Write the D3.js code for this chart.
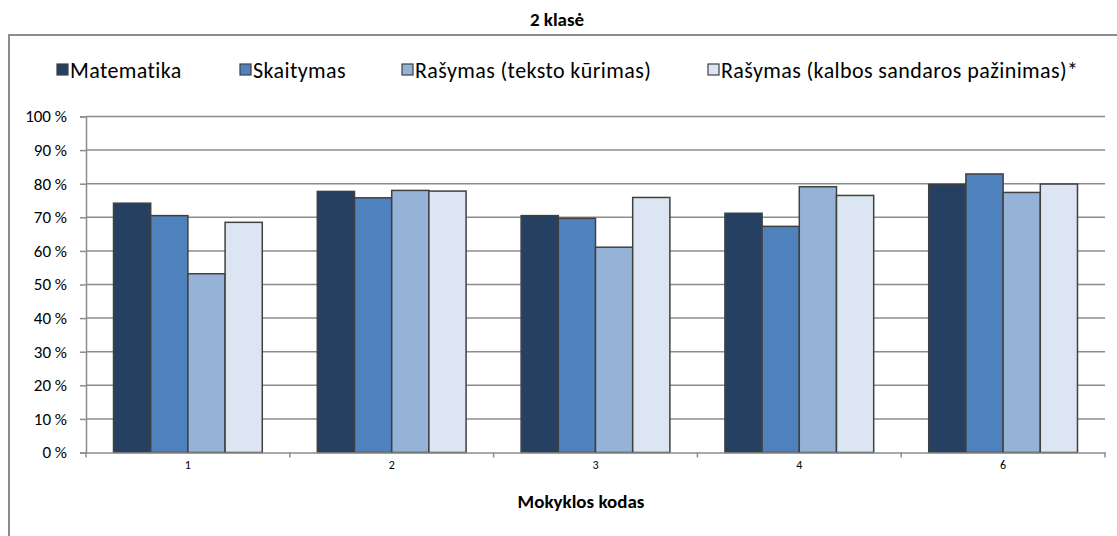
<!DOCTYPE html>
<html><head><meta charset="utf-8">
<script src="https://cdn.jsdelivr.net/npm/d3@7"></script>
<style>
body{margin:0;background:#fff;}
text{font-family:Carlito,Calibri,Lato,sans-serif;fill:#000;}
</style></head>
<body>
<svg id="chart" width="1117" height="536"></svg>
<script>
const categories = ["1","2","3","4","6"];
const seriesNames = ["Matematika","Skaitymas","Rašymas (teksto kūrimas)","Rašymas (kalbos sandaros pažinimas)*"];
const matematika = [74.2, 77.7, 70.5, 71.2, 79.8];
const skaitymas = [70.5, 75.8, 69.7, 67.3, 82.9];
const rasymasTeksto = [53.2, 78.0, 61.1, 79.1, 77.4];
const rasymasKalbos = [68.5, 77.8, 75.9, 76.5, 79.9];
const yTicks = [0,10,20,30,40,50,60,70,80,90,100];
const colors = ["#254061","#4F81BD","#95B3D7","#DCE6F2"];
const chartTitle = "2 klasė";
const xTitle = "Mokyklos kodas";

(function(){
const series = [matematika, skaitymas, rasymasTeksto, rasymasKalbos];
const svg = d3.select("#chart");

svg.append("rect").attr("x",9).attr("y",35).attr("width",1200).attr("height",600)
  .attr("fill","none").attr("stroke","#8c8c8c").attr("stroke-width",2);

const pL=86, pR=1105, pT=116.5, pB=452.5;
const x0 = d3.scaleBand().domain(categories).range([pL,pR]).paddingInner(0.27).paddingOuter(0.135);
const x1 = d3.scaleBand().domain(d3.range(series.length)).range([0,x0.bandwidth()]);
const y = d3.scaleLinear().domain([0,100]).range([pB,pT]);

svg.append("g").selectAll("line").data(yTicks.filter(d=>d>0)).join("line")
  .attr("x1",pL).attr("x2",pR).attr("y1",d=>y(d)).attr("y2",d=>y(d))
  .attr("stroke","#8c8c8c").attr("stroke-width",1.5);

const g = svg.append("g");
categories.forEach((c,ci)=>{
  series.forEach((s,si)=>{
    g.append("rect").attr("x",x0(c)+x1(si)).attr("y",y(s[ci]))
      .attr("width",x1.bandwidth()).attr("height",pB-y(s[ci]))
      .attr("fill",colors[si]).attr("stroke","#404040").attr("stroke-width",1.5);
  });
});

const yAxis = d3.axisLeft(y).tickValues(yTicks).tickFormat(d=>d+" %").tickSize(6).tickPadding(13);
const ya = svg.append("g").attr("transform",`translate(${pL},0)`).call(yAxis);
ya.select(".domain").attr("stroke","#8c8c8c").attr("stroke-width",1.5);
ya.selectAll(".tick line").attr("stroke","#8c8c8c").attr("stroke-width",1.5);
ya.selectAll("text").style("font-size","17px").attr("fill","#000");

const xa = svg.append("g").attr("transform",`translate(0,${pB})`)
  .call(d3.axisBottom(x0).tickSize(0).tickPadding(8));
xa.select(".domain").attr("stroke","#8c8c8c").attr("stroke-width",1.5);
xa.selectAll("text").style("font-size","12px").attr("fill","#000");
const bounds = categories.map(c=>x0(c)-x0.step()*x0.paddingInner()/2).concat([pR]);
xa.selectAll(".bnd").data(bounds).join("line").attr("class","bnd")
  .attr("x1",d=>d).attr("x2",d=>d).attr("y1",0).attr("y2",5)
  .attr("stroke","#8c8c8c").attr("stroke-width",1.5);

svg.append("text").attr("x",557).attr("y",26).attr("text-anchor","middle")
  .style("font-size","19px").style("font-weight","bold").text(chartTitle);
svg.append("text").attr("x",581).attr("y",508).attr("text-anchor","middle")
  .style("font-size","19px").style("font-weight","bold").text(xTitle);

const legX = [57, 240, 402, 708];
const leg = svg.append("g");
seriesNames.forEach((n,i)=>{
  leg.append("rect").attr("x",legX[i]).attr("y",64).attr("width",11).attr("height",11)
    .attr("fill",colors[i]).attr("stroke","#404040").attr("stroke-width",1.2);
  leg.append("text").attr("x",legX[i]+13).attr("y",70).attr("dominant-baseline","central")
    .style("font-size","22px").style("letter-spacing","0.4px").text(n);
});
})();
</script>
</body></html>
